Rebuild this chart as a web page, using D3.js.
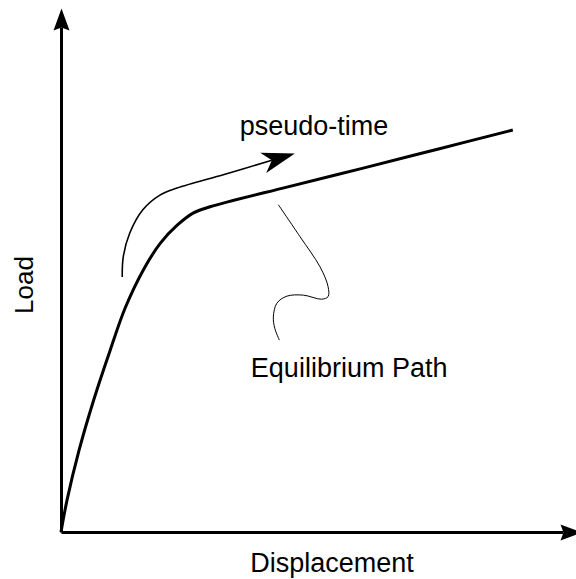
<!DOCTYPE html>
<html>
<head>
<meta charset="utf-8">
<script src="https://cdn.jsdelivr.net/npm/d3@7"></script>
<style>
  body { margin: 0; background: #fff; }
  text { font-family: "Liberation Sans", Arial, Helvetica, sans-serif; fill: #000; }
</style>
</head>
<body>
<svg id="my_svg"></svg>
<script>
const width = 576;
const height = 579;

// equilibrium path (displacement, load) in arbitrary units
const displacement = [0, 0.12, 0.36, 0.65, 0.98, 1.28, 1.64, 1.98, 2.32, 2.64, 2.97, 4.5, 6.0, 7.5, 9.0];
const load = [0, 0.63, 1.62, 2.61, 3.60, 4.44, 5.19, 5.72, 6.08, 6.32, 6.44, 6.83, 7.20, 7.58, 7.96];

// pseudo-time arrow (annotation)
const arrowX = [1.22, 1.24, 1.37, 1.63, 1.97, 2.31, 3.25, 4.20];
const arrowY = [5.05, 5.45, 5.92, 6.38, 6.67, 6.81, 7.08, 7.36];

// leader line to the "Equilibrium Path" label
const leaderX = [4.33, 4.76, 5.16, 5.32, 5.32, 5.19, 4.83, 4.50, 4.30, 4.23, 4.26, 4.35];
const leaderY = [6.48, 5.85, 5.25, 4.86, 4.66, 4.61, 4.69, 4.67, 4.53, 4.26, 4.03, 3.80];

const labels = { x: 'Displacement', y: 'Load', arrow: 'pseudo-time', path: 'Equilibrium Path' };

const svg = d3.select('#my_svg')
  .attr('width', width)
  .attr('height', height);

const xScale = d3.scaleLinear().domain([0, 10]).range([61, 563]);
const yScale = d3.scaleLinear().domain([0, 10]).range([532, 27]);

const defs = svg.append('defs');
// axis arrowhead
defs.append('marker')
  .attr('id', 'axisHead')
  .attr('markerUnits', 'userSpaceOnUse')
  .attr('viewBox', '-23 -9 24 18')
  .attr('markerWidth', 24)
  .attr('markerHeight', 18)
  .attr('refX', -19)
  .attr('refY', 0)
  .attr('orient', 'auto')
  .append('path')
  .attr('d', 'M0,0L-22,-8L-19,0L-22,8Z')
  .attr('fill', '#000');
// pseudo-time arrowhead
defs.append('marker')
  .attr('id', 'timeHead')
  .attr('markerUnits', 'userSpaceOnUse')
  .attr('viewBox', '-34 -11 35 22')
  .attr('markerWidth', 35)
  .attr('markerHeight', 22)
  .attr('refX', -24)
  .attr('refY', 0)
  .attr('orient', 'auto')
  .append('path')
  .attr('d', 'M0,0L-33,-10.5L-24,0L-33,10.5Z')
  .attr('fill', '#000');

// axes without ticks
const xAxis = svg.append('g')
  .attr('transform', `translate(0, ${yScale(0)})`)
  .call(d3.axisBottom(xScale).tickValues([]).tickSizeOuter(0));
const yAxis = svg.append('g')
  .attr('transform', `translate(${xScale(0)}, 0)`)
  .call(d3.axisLeft(yScale).tickValues([]).tickSizeOuter(0));
[xAxis, yAxis].forEach(a => a.select('.domain')
  .attr('stroke', '#000')
  .attr('stroke-width', 3)
  .attr('marker-end', 'url(#axisHead)'));

const line = d3.line()
  .x(d => xScale(d[0]))
  .y(d => yScale(d[1]))
  .curve(d3.curveCatmullRom.alpha(0.5));

// main curve
svg.append('path')
  .datum(d3.zip(displacement, load))
  .attr('d', line)
  .attr('fill', 'none')
  .attr('stroke', '#000')
  .attr('stroke-width', 3);

// pseudo-time arrow
svg.append('path')
  .datum(d3.zip(arrowX, arrowY))
  .attr('d', line)
  .attr('fill', 'none')
  .attr('stroke', '#000')
  .attr('stroke-width', 1.6)
  .attr('marker-end', 'url(#timeHead)');

// leader line
svg.append('path')
  .datum(d3.zip(leaderX, leaderY))
  .attr('d', line)
  .attr('fill', 'none')
  .attr('stroke', '#000')
  .attr('stroke-width', 1);

// texts
svg.append('text')
  .attr('x', xScale(5.04))
  .attr('y', yScale(7.86))
  .attr('text-anchor', 'middle')
  .attr('font-size', 27)
  .text(labels.arrow);

svg.append('text')
  .attr('x', xScale(5.74))
  .attr('y', yScale(3.07))
  .attr('text-anchor', 'middle')
  .attr('font-size', 27)
  .text(labels.path);

svg.append('text')
  .attr('x', 332)
  .attr('y', 572)
  .attr('text-anchor', 'middle')
  .attr('font-size', 27)
  .text(labels.x);

svg.append('text')
  .attr('x', 33)
  .attr('y', 285)
  .attr('text-anchor', 'middle')
  .attr('font-size', 26)
  .attr('transform', 'rotate(-90, 33, 285)')
  .text(labels.y);
</script>
</body>
</html>
